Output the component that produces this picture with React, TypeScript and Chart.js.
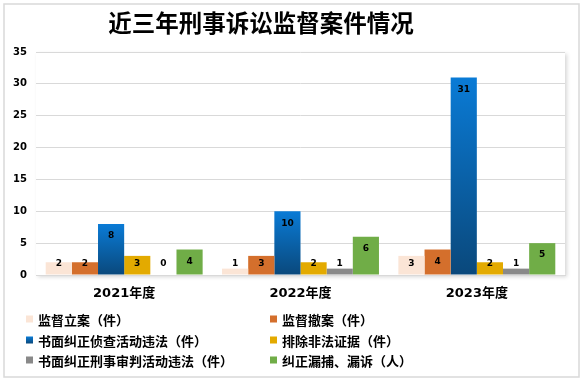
import React, { useEffect, useRef } from 'react';
import { Chart, registerables } from 'chart.js';
Chart.register(...registerables);

const title = '近三年刑事诉讼监督案件情况';
const categories = ['2021年度', '2022年度', '2023年度'];
const seriesNames = [
  '监督立案（件）',
  '监督撤案（件）',
  '书面纠正侦查活动违法（件）',
  '排除非法证据（件）',
  '书面纠正刑事审判活动违法（件）',
  '纠正漏捕、漏诉（人）',
];
const jianduLian = [2, 1, 3];
const jianduChean = [2, 3, 4];
const zhenchaWeifa = [8, 10, 31];
const paichuZhengju = [3, 2, 2];
const shenpanWeifa = [0, 1, 1];
const louBuLouSu = [4, 6, 5];
const seriesValues = [jianduLian, jianduChean, zhenchaWeifa, paichuZhengju, shenpanWeifa, louBuLouSu];
const seriesColors = ['#FBE5D6', '#D46F2C', '#0A79D3', '#E3AA00', '#898989', '#70AD47'];
const blueTop = '#0A7BD6';
const blueBottom = '#0A487B';
const yMax = 35;
const yStep = 5;

const CJK = '"Noto Sans CJK SC", "Noto Sans", sans-serif';
const NUM = '"DejaVu Sans", "Noto Sans CJK SC", sans-serif';

export default function App() {
  const ref = useRef<HTMLCanvasElement | null>(null);

  useEffect(() => {
    const canvas = ref.current;
    if (!canvas) return;

    const blueFill = (ctx: any) => {
      const chart = ctx.chart;
      const area = chart.chartArea;
      if (!area || ctx.type !== 'data') return seriesColors[2];
      const v = ctx.parsed ? ctx.parsed.y : ctx.raw;
      const y = chart.scales.y;
      const top = y.getPixelForValue(v);
      const base = y.getPixelForValue(0);
      const g = chart.ctx.createLinearGradient(0, top, 0, base);
      g.addColorStop(0, blueTop);
      g.addColorStop(1, blueBottom);
      return g;
    };

    const decor = {
      id: 'decor',
      beforeDraw(chart: any) {
        const { ctx, chartArea: a } = chart;
        ctx.save();
        ctx.fillStyle = '#ffffff';
        ctx.fillRect(0, 0, chart.width, chart.height);
        ctx.strokeStyle = '#D9D9D9';
        ctx.lineWidth = 1.5;
        ctx.strokeRect(4, 4, 575, 373);
        ctx.shadowColor = 'rgba(0,0,0,0.16)';
        ctx.shadowBlur = 4;
        ctx.shadowOffsetX = 2;
        ctx.shadowOffsetY = 2;
        ctx.fillStyle = '#ffffff';
        ctx.fillRect(a.left, a.top, a.right - a.left, a.bottom - a.top);
        ctx.restore();
      },
      afterDatasetsDraw(chart: any) {
        const { ctx } = chart;
        const base = chart.scales.y.getPixelForValue(0);
        ctx.save();
        ctx.fillStyle = '#000';
        ctx.font = `bold 9px ${NUM}`;
        ctx.textAlign = 'center';
        ctx.textBaseline = 'middle';
        chart.data.datasets.forEach((ds: any, i: number) => {
          const meta = chart.getDatasetMeta(i);
          meta.data.forEach((el: any, j: number) => {
            const y = Math.min(el.y + 12, base - 11);
            ctx.fillText(String(ds.data[j]), el.x, y);
          });
        });
        ctx.restore();
      },
      afterDraw(chart: any) {
        const { ctx } = chart;
        ctx.save();
        ctx.fillStyle = '#000';
        ctx.font = `bold 23.5px ${CJK}`;
        ctx.textAlign = 'center';
        ctx.textBaseline = 'middle';
        ctx.fillText(title, 261, 23);

        const colX = [26, 270];
        const rowY = [319, 340, 360];
        ctx.font = `bold 13px ${CJK}`;
        ctx.textAlign = 'left';
        chart.data.datasets.forEach((ds: any, i: number) => {
          const x = colX[i % 2];
          const y = rowY[Math.floor(i / 2)];
          if (i === 2) {
            const g = ctx.createLinearGradient(0, y - 3.5, 0, y + 3.5);
            g.addColorStop(0, blueTop);
            g.addColorStop(1, blueBottom);
            ctx.fillStyle = g;
          } else {
            ctx.fillStyle = seriesColors[i];
          }
          ctx.fillRect(x, y - 3.5, 7, 7);
          ctx.fillStyle = '#000';
          ctx.fillText(ds.label, x + 12, y + 1);
        });
        ctx.restore();
      },
    };

    const chart = new Chart(canvas, {
      type: 'bar',
      data: {
        labels: categories,
        datasets: seriesNames.map((name, i) => ({
          label: name,
          data: seriesValues[i],
          backgroundColor: i === 2 ? blueFill : seriesColors[i],
          borderWidth: 0,
          categoryPercentage: 0.89,
          barPercentage: 1,
        })),
      },
      options: {
        responsive: false,
        animation: false,
        layout: { padding: { top: 52, right: 19, bottom: 76, left: 0 } },
        plugins: {
          legend: { display: false },
          title: { display: false },
          tooltip: { enabled: false },
        },
        scales: {
          x: {
            grid: { display: false, drawTicks: false },
            border: { display: true, color: '#D9D9D9', width: 1 },
            ticks: {
              padding: 11,
              color: '#000',
              font: { family: NUM, size: 13, weight: 'bold' },
            },
            afterFit: (s: any) => { s.height = 30; },
          },
          y: {
            min: 0,
            max: yMax,
            ticks: {
              stepSize: yStep,
              padding: 9,
              color: '#000',
              font: { family: NUM, size: 10, weight: 'bold' },
            },
            grid: { color: '#D9D9D9', lineWidth: 1, drawTicks: false },
            border: { display: false },
            afterFit: (s: any) => { s.width = 36; },
          },
        },
      },
      plugins: [decor],
    } as any);

    return () => chart.destroy();
  }, []);

  return (
    <div style={{ position: 'fixed', left: 0, top: 0, width: 584, height: 381, background: '#fff' }}>
      <canvas ref={ref} width={584} height={381} style={{ display: 'block', width: 584, height: 381 }} />
    </div>
  );
}
